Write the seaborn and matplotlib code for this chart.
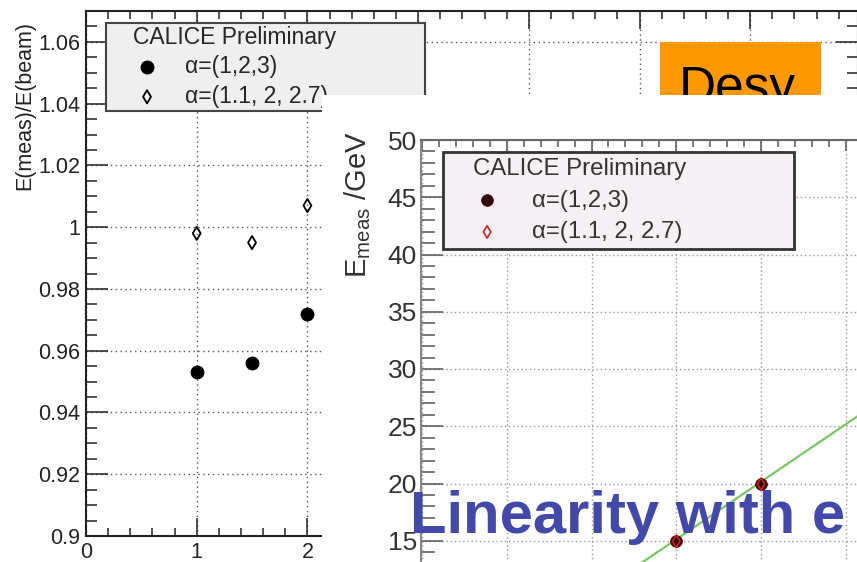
import matplotlib
matplotlib.use('Agg')
import matplotlib.pyplot as plt
from matplotlib.patches import Rectangle
from matplotlib.ticker import MultipleLocator, FuncFormatter
import seaborn as sns

sns.set_style('ticks')
plt.rcParams['font.family'] = ['Liberation Sans', 'DejaVu Sans']
plt.rcParams['mathtext.default'] = 'regular'

# datos
alpha_labels = ['α=(1,2,3)', 'α=(1.1, 2, 2.7)']
x_left = [1, 1.5, 2]
ratio_a = [0.953, 0.956, 0.972]
ratio_b = [0.998, 0.995, 1.007]

e_beam = [15, 20]
e_meas_a = [14.95, 19.95]
e_meas_b = [14.95, 19.95]
fit_beam = [10, 30]
fit_meas = [10.1, 30.2]

W, H = 857, 562
fig = plt.figure(figsize=(W / 100, H / 100), dpi=100)


def box(x0, y0, x1, y1):
    # caja en pixeles (origen arriba a la izquierda) -> fracciones de figura
    return [x0 / W, 1 - y1 / H, (x1 - x0) / W, (y1 - y0) / H]


fmt = FuncFormatter(lambda v, p: f'{v:g}')

# ---- grafica izquierda: E(meas)/E(beam) ----
ax = fig.add_axes(box(86, 11, 858, 536), zorder=0)
sns.scatterplot(x=x_left, y=ratio_a, ax=ax, color='black', edgecolor='black',
                s=85, marker='o', label=alpha_labels[0], zorder=4)
sns.scatterplot(x=x_left, y=ratio_b, ax=ax, marker='d', facecolors='none',
                edgecolor='black', linewidth=1.3, s=45, label=alpha_labels[1], zorder=4)
ax.set_xlim(0, 772 / 110.7)
ax.set_ylim(0.9, 1.07)
ax.xaxis.set_major_locator(MultipleLocator(1))
ax.xaxis.set_minor_locator(MultipleLocator(0.2))
ax.yaxis.set_major_locator(MultipleLocator(0.02))
ax.yaxis.set_minor_locator(MultipleLocator(0.005))
ax.xaxis.set_major_formatter(fmt)
ax.yaxis.set_major_formatter(fmt)
ax.grid(True, which='major', linestyle=(0, (1, 2.5)), color='#555', linewidth=1)
ax.tick_params(which='both', direction='in', top=True, right=True, colors='#222', width=1.1)
ax.tick_params(axis='x', which='major', length=13, pad=4, labelsize=15.5)
ax.tick_params(axis='x', which='minor', length=6)
ax.tick_params(axis='y', which='major', length=16, pad=4, labelsize=15.5)
ax.tick_params(axis='y', which='minor', length=8)
for s in ax.spines.values():
    s.set_linewidth(1.5)
    s.set_color('#222')

leg = ax.legend(title='CALICE Preliminary', loc='upper left',
                bbox_to_anchor=(106 / W, 1 - 23 / H, (425 - 106) / W, 0),
                bbox_transform=fig.transFigure, mode='expand', borderaxespad=0,
                borderpad=0.13, handlelength=3.32, handletextpad=0.0, labelspacing=0.28,
                fontsize=16.5, title_fontsize=16.5, alignment='left', fancybox=False,
                facecolor='#efefef', edgecolor='#444', framealpha=1)
leg.get_frame().set_linewidth(1.5)
leg.get_title().set_position((24, 0))

fig.text(25 / W, 1 - 106 / H, 'E(meas)/E(beam)', rotation=90, ha='center', va='center',
         fontsize=15.5, color='#222')

# ---- recuadro naranja "Desy" ----
fig.add_artist(Rectangle((660 / W, 1 - 140 / H), (821 - 660) / W, (140 - 42) / H,
                         transform=fig.transFigure, facecolor='#ff9900', edgecolor='none', zorder=1))
fig.text(679 / W, 1 - 103.5 / H, 'Desy', fontsize=37, color='black', ha='left',
         va='baseline', zorder=1.5)

# ---- fondo blanco de la segunda imagen ----
fig.add_artist(Rectangle((322 / W, -0.01), 1, (562 - 95) / H + 0.01,
                         transform=fig.transFigure, facecolor='white', edgecolor='none', zorder=2))

# ---- grafica derecha: linealidad ----
ax2 = fig.add_axes(box(421, 140, 880, 590), zorder=3)
sns.lineplot(x=fit_beam, y=fit_meas, ax=ax2, color='#77c766', linewidth=1.6, zorder=3)
sns.scatterplot(x=e_beam, y=e_meas_a, ax=ax2, color='#2a0505', edgecolor='#5a0000',
                s=70, label=alpha_labels[0], zorder=4)
sns.scatterplot(x=e_beam, y=e_meas_b, ax=ax2, marker='d', facecolors='none',
                edgecolor='#d02020', linewidth=1.2, s=40, label=alpha_labels[1], zorder=5)
ax2.set_xlim(-1 / 16.95, (880 - 422) / 16.95)
ax2.set_ylim(50 - 450 / 11.45, 50)
ax2.set_xlabel('')
ax2.set_ylabel('')
ax2.xaxis.set_major_locator(MultipleLocator(5))
ax2.xaxis.set_minor_locator(MultipleLocator(1))
ax2.yaxis.set_major_locator(MultipleLocator(5))
ax2.yaxis.set_minor_locator(MultipleLocator(1))
ax2.yaxis.set_major_formatter(fmt)
ax2.grid(True, which='major', linestyle=(0, (1, 2)), color='#999', linewidth=1)
ax2.tick_params(which='both', direction='in', top=True, bottom=False, right=False,
                labelbottom=False, colors='#555', width=1.1)
ax2.tick_params(axis='y', which='major', length=16, pad=3, labelsize=19, labelcolor='#333')
ax2.tick_params(axis='y', which='minor', length=10)
ax2.tick_params(axis='x', which='major', length=8)
ax2.tick_params(axis='x', which='minor', length=5)
ax2.spines['left'].set_color('#888')
ax2.spines['top'].set_color('#666')
for side in ['left', 'top']:
    ax2.spines[side].set_linewidth(1.5)
ax2.spines['right'].set_visible(False)
ax2.spines['bottom'].set_visible(False)

leg2 = ax2.legend(title='CALICE Preliminary', loc='upper left',
                  bbox_to_anchor=(443 / W, 1 - 152 / H, (794 - 443) / W, 0),
                  bbox_transform=fig.transFigure, mode='expand', borderaxespad=0,
                  borderpad=0.25, handlelength=3.17, handletextpad=0.29, labelspacing=0.4,
                  fontsize=17.3, title_fontsize=17.3, alignment='left', fancybox=False,
                  facecolor='#f4f0f3', edgecolor='#333', framealpha=1)
leg2.get_frame().set_linewidth(2)
leg2.get_title().set_position((24, 0))
leg2.get_title().set_color('#333')
for t in leg2.get_texts():
    t.set_color('#333')

fig.text(358 / W, 1 - 205 / H, r'$E_{meas}$ /GeV', rotation=90, ha='center', va='center',
         fontsize=21, color='#333', zorder=4)

fig.text(410 / W, 1 - 533 / H, 'Linearity with e', fontsize=43, fontweight='bold',
         color='#4349a9', ha='left', va='baseline', zorder=5)

fig.savefig('out.png', dpi=100)
